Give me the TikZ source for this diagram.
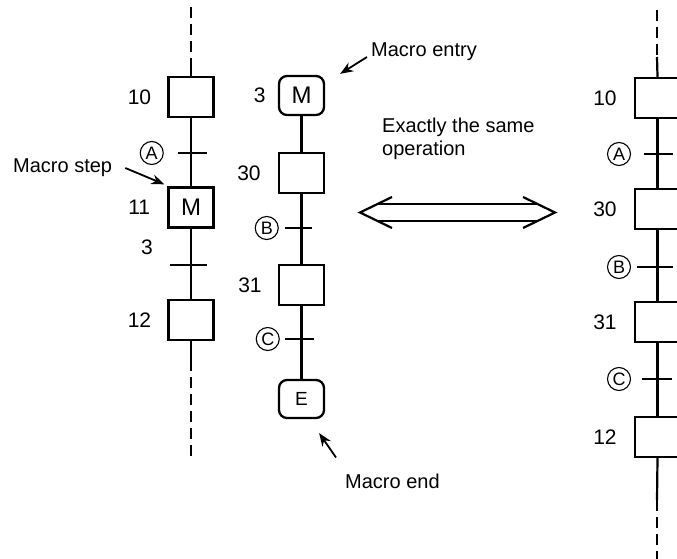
\documentclass[tikz,border=0pt]{standalone}
\usepackage{fontspec}
\setmainfont{Liberation Sans}
\usetikzlibrary{arrows.meta,calc,positioning}

\begin{document}
\begin{tikzpicture}[x=1pt,y=-1pt]

% --------------------
% Parameters (tweak these)
% --------------------
\def\boxW{45pt}   % step box width
\def\boxH{40pt}   % step box height
\def\numgap{16pt} % gap between step number and box
\def\condgap{14pt} % gap between condition circle and tick
\def\chevW{32}    % chevron depth of the double arrow
\def\chevH{15.5}  % chevron half height
\def\railH{8.5}   % half distance of the double arrow rails

\tikzset{
  stepbox/.style={draw, line width=2.3pt, minimum width=\boxW, minimum height=\boxH,
    inner sep=0pt, font=\fontsize{24}{26}\selectfont},
  macrobox/.style={stepbox, rounded corners=8pt},
  num/.style={font=\fontsize{21}{23}\selectfont, inner sep=0pt},
  cond/.style={circle, draw, line width=1.1pt, minimum size=23pt, inner sep=0pt,
    font=\fontsize{18}{18}\selectfont},
  tickbar/.style={fill, inner sep=0pt, minimum height=2.2pt},
  link/.style={line width=2.2pt},
  dashlink/.style={line width=2.2pt, dash pattern=on 11pt off 6pt},
  note/.style={font=\fontsize{20}{24}\selectfont, inner sep=0pt, align=left},
  pointer/.style={-{Stealth[length=13pt,width=10pt]}, line width=1.8pt}
}

\useasboundingbox (0,0) rectangle (677,559);

% --------------------
% Left chart: macro step in the main sequence
% --------------------
\node[stepbox] (s10) at (191,97) {};
\node[stepbox] (s11) at (191,207.5) {M};
\node[stepbox] (s12) at (191,320) {};

\node[num, left=\numgap of s10] (n10) {10};
\node[num, left=17pt of s11] (n11) {11};
\node[num, anchor=east] (n3) at (153,247) {3};
\node[num, left=\numgap of s12] (n12) {12};

\node[tickbar, minimum width=29pt] (tA) at (192.5,153) {};
\node[tickbar, minimum width=37pt] (t3) at (188.5,265) {};
\node[cond, left=\condgap of tA] (cA) {A};

\coordinate (top1) at (191,7);
\coordinate (top1s) at (191,60);
\coordinate (bot1s) at (191,360);
\coordinate (bot1) at (191,461);

\draw[dashlink] (top1) -- (top1s);
\draw[link] (top1s) -- (s10.north);
\draw[link] (s10.south) -- (s11.north);
\draw[link] (s11.south) -- (s12.north);
\draw[link] (s12.south) -- (bot1s);
\draw[dashlink] (bot1s) -- (bot1);

% --------------------
% Middle chart: the macro expansion
% --------------------
\node[macrobox, minimum height=39pt] (e3) at (301.5,95.5) {M};
\node[stepbox] (s30) at (301.5,173) {};
\node[stepbox] (s31) at (301.5,285) {};
\node[macrobox, minimum height=38pt, font=\fontsize{19}{21}\selectfont] (eE) at (301.5,399) {E};

\node[num, left=12pt of e3] (m3) {3};
\node[num, left=17pt of s30] (n30) {30};
\node[num, left=\numgap of s31] (n31) {31};

\node[tickbar, minimum width=27pt] (tB) at (298.5,228) {};
\node[tickbar, minimum width=29pt] (tC) at (299.5,339) {};
\node[cond, left=6pt of tB] (cB) {B};
\node[cond, left=5pt of tC] (cC) {C};

\draw[link] (e3.south) -- (s30.north);
\draw[link] (s30.south) -- (s31.north);
\draw[link] (s31.south) -- (eE.north);

% --------------------
% Right chart: the same sequence written out
% --------------------
\node[stepbox] (r10) at (657.5,98) {};
\node[stepbox] (r30) at (657.5,209) {};
\node[stepbox] (r31) at (657.5,322) {};
\node[stepbox] (r12) at (657.5,437) {};

\node[num, left=17pt of r10] (q10) {10};
\node[num, left=17pt of r30] (q30) {30};
\node[num, left=17pt of r31] (q31) {31};
\node[num, left=17pt of r12] (q12) {12};

\node[tickbar, minimum width=29pt] (rA) at (658.5,154) {};
\node[tickbar, minimum width=36pt] (rB) at (655,267) {};
\node[tickbar, minimum width=30pt] (rC) at (657,379) {};
\node[cond] (dA) at (619,154) {A};
\node[cond] (dB) at (619,267) {B};
\node[cond] (dC) at (619,379) {C};

\coordinate (top2) at (657,10);
\coordinate (top2s) at (657,57);
\coordinate (bot2s) at (657,500);
\coordinate (bot2) at (657,562);

\draw[dashlink] (top2) -- (top2s);
\draw[link] (top2s) -- (r10.north);
\draw[link] (r10.south) -- (r30.north);
\draw[link] (r30.south) -- (r31.north);
\draw[link] (r31.south) -- (r12.north);
\draw[link] (r12.south) -- (bot2s);
\draw[dashlink] (bot2s) -- (bot2);

% --------------------
% Annotations
% --------------------
\node[note, anchor=west] (nStep) at (13,168) {Macro step};
\node[note, anchor=west] (nEntry) at (371,52) {Macro entry};
\node[note, anchor=west] (nEnd) at (345,481) {Macro end};
\node[note, anchor=base west] (nSame) at (382,156) {Exactly the same\\operation};

\coordinate (entryTip) at ($(e3.north east)+(15,-1)$);
\coordinate (endTip) at ($(eE.south east)+(-6,14)$);

\draw[pointer] ($(nStep.east)+(13,0)$) -- ($(s11.north west)+(-3,-2)$);
\draw[pointer] ($(nEntry.west)+(-4,5)$) -- (entryTip);
\draw[pointer] ($(nEnd.north west)+(-9,-16)$) -- (endTip);

% --------------------
% Double arrow "same operation"
% --------------------
\coordinate (opL) at (360,212.5);
\coordinate (opR) at (555,212.5);

\draw[link] ($(opL)+(\chevW,-\chevH)$) -- (opL) -- ($(opL)+(\chevW,\chevH)$);
\draw[link] ($(opR)+(-\chevW,-\chevH)$) -- (opR) -- ($(opR)+(-\chevW,\chevH)$);
\draw[link] ($(opL)+(17,-\railH)$) -- ($(opR)+(-17,-\railH)$);
\draw[link] ($(opL)+(17,\railH)$) -- ($(opR)+(-17,\railH)$);

\end{tikzpicture}
\end{document}
